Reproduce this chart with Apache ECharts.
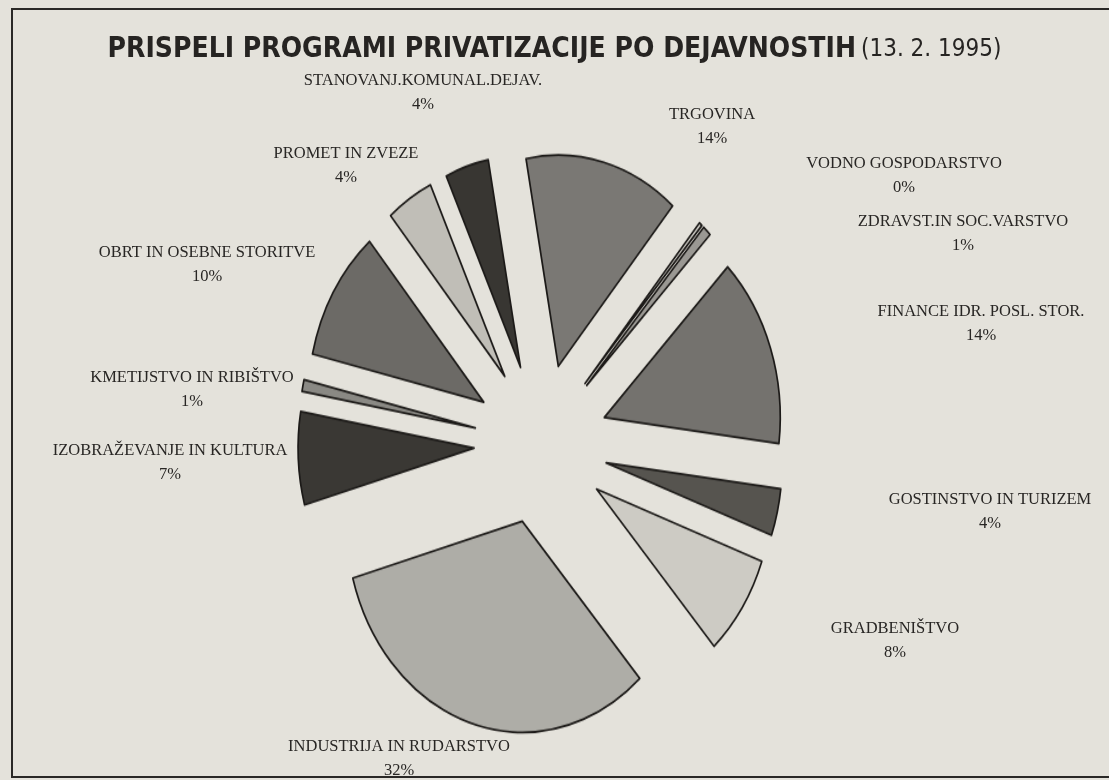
<!DOCTYPE html>
<html>
<head>
<meta charset="utf-8">
<script src="https://cdn.jsdelivr.net/npm/echarts@6/dist/echarts.min.js"></script>
<style>
  html, body { margin: 0; padding: 0; background: #e4e2db; overflow: hidden; }
  #wrap { position: relative; width: 1109px; height: 780px; overflow: hidden; }
  #pie { position: absolute; left: 0; top: 0; width: 1109px; height: 780px;
         transform: scaleY(1.2); transform-origin: 541px 444px; }
  #labels { position: absolute; left: 0; top: 0; width: 1109px; height: 780px; }
</style>
</head>
<body>
<div id="wrap">
  <div id="pie"></div>
  <div id="labels"></div>
</div>
<script>
// Sectors in clockwise order (alphabetical), starting from FINANCE
const categories = [
  'FINANCE IDR. POSL. STOR.',
  'GOSTINSTVO IN TURIZEM',
  'GRADBENIŠTVO',
  'INDUSTRIJA IN RUDARSTVO',
  'IZOBRAŽEVANJE IN KULTURA',
  'KMETIJSTVO IN RIBIŠTVO',
  'OBRT IN OSEBNE STORITVE',
  'PROMET IN ZVEZE',
  'STANOVANJ.KOMUNAL.DEJAV.',
  'TRGOVINA',
  'VODNO GOSPODARSTVO',
  'ZDRAVST.IN SOC.VARSTVO'
];
// shares in percent
const shares = [14.6, 3.6, 7.8, 32.3, 7.1, 0.9, 10.1, 4.3, 4.0, 14.2, 0.3, 0.8];
// percentages as printed on the chart
const printedPercents = [14, 4, 8, 32, 7, 1, 10, 4, 4, 14, 0, 1];

// ---- presentation settings (not data) ----
const sliceColors = ['#74726e', '#56544f', '#cdcbc4', '#aeada7', '#3a3834', '#8a8984',
                     '#6c6a66', '#c0beb7', '#383632', '#7a7874', '#cfcdc6', '#9a9893'];
const PIE_CENTER = [541, 444];
const PIE_RADIUS = 176;
const EXPLODE = 67;
// where each label block should be centred on the page
const labelCenters = [
  [981, 324], [990, 512], [895, 641], [399, 759], [170, 463], [192, 390],
  [207, 265], [346, 166], [423, 93], [712, 127], [904, 176], [963, 234]
];
const serif = '"Liberation Serif", "Times New Roman", serif';
const titleFont = '"Liberation Sans Narrow", "DejaVu Sans Condensed", "Arial Narrow", sans-serif';

function pieSeries(visible) {
  return {
    type: 'pie',
    center: PIE_CENTER,
    radius: [0, PIE_RADIUS],
    startAngle: 45.5,
    clockwise: true,
    selectedMode: visible ? 'multiple' : false,
    selectedOffset: visible ? EXPLODE : 0,
    avoidLabelOverlap: false,
    itemStyle: visible
      ? { borderColor: '#1c1a18', borderWidth: 1.7 }
      : { color: 'rgba(0,0,0,0)', borderWidth: 0 },
    select: { itemStyle: visible
      ? { borderColor: '#1c1a18', borderWidth: 1.7 }
      : { color: 'rgba(0,0,0,0)', borderWidth: 0 } },
    emphasis: { disabled: true },
    label: visible ? { show: false } : {
      show: true,
      position: 'outside',
      formatter: function (p) {
        return '{n|' + p.name + '}\n{p|' + printedPercents[p.dataIndex] + '%}';
      },
      rich: {
        n: { align: 'center', fontFamily: serif, fontSize: 16.5, color: '#282624', lineHeight: 24 },
        p: { align: 'center', fontFamily: serif, fontSize: 16.5, color: '#282624', lineHeight: 24 }
      }
    },
    labelLine: { show: false, length: 15, length2: 15 },
    labelLayout: visible ? null : function (params) {
      const c = labelCenters[params.dataIndex];
      const r = params.labelRect;
      return {
        dx: c[0] - (r.x + r.width / 2),
        dy: c[1] - (r.y + r.height / 2)
      };
    },
    data: categories.map((name, i) => ({
      name: name,
      value: shares[i],
      selected: visible,
      itemStyle: visible ? { color: sliceColors[i] } : undefined
    }))
  };
}

// Layer 1: the slices (the original print is stretched vertically)
const pieChart = echarts.init(document.getElementById('pie'), null, { renderer: 'canvas' });
pieChart.setOption({
  animation: false,
  backgroundColor: 'transparent',
  series: [pieSeries(true)]
});

// Layer 2: frame, title and the slice labels
const labelChart = echarts.init(document.getElementById('labels'), null, { renderer: 'canvas' });
labelChart.setOption({
  animation: false,
  backgroundColor: 'transparent',
  title: {
    left: 'center',
    top: 31,
    text: '{b|PRISPELI PROGRAMI PRIVATIZACIJE PO DEJAVNOSTIH} {r|(13. 2. 1995)}',
    textStyle: {
      rich: {
        b: { fontFamily: titleFont, fontWeight: 'bold', fontSize: 28, color: '#262422' },
        r: { fontFamily: titleFont, fontWeight: 'normal', fontSize: 24, color: '#262422' }
      }
    }
  },
  graphic: [{
    type: 'rect',
    shape: { x: 12, y: 9, width: 1120, height: 768 },
    style: { fill: null, stroke: '#2a2826', lineWidth: 2 },
    silent: true
  }],
  series: [pieSeries(false)]
});
</script>
</body>
</html>
